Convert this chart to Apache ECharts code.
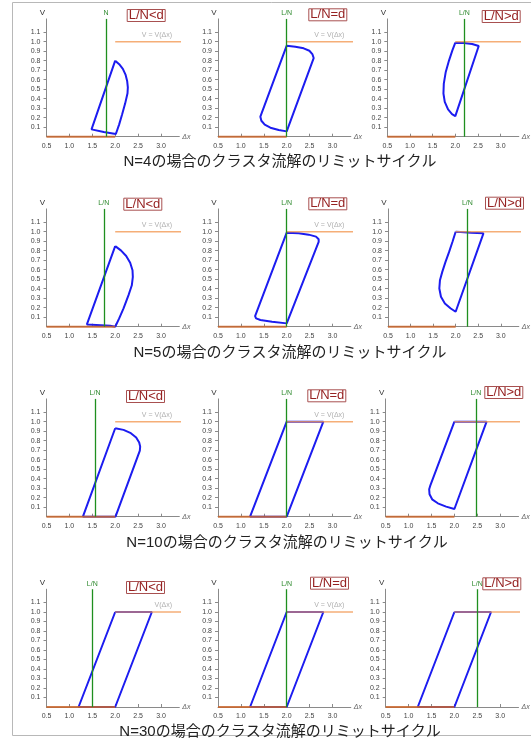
<!DOCTYPE html>
<html><head><meta charset="utf-8">
<script src="https://cdn.jsdelivr.net/npm/echarts@6/dist/echarts.min.js"></script>
<style>html,body{margin:0;padding:0;background:#fff}#c{width:531px;height:743px}</style>
</head><body><div id="c"></div>
<script>
// ---- data ----
const xTickValues = [0.5, 1.0, 1.5, 2.0, 2.5, 3.0];
const xTickLabels = [0.5, 1.0, 1.5, 2.0, 2.5, 3.0];
const yTickValues = [0.1, 0.2, 0.3, 0.4, 0.5, 0.6, 0.7, 0.8, 0.9, 1.0, 1.1];
const rowN = [4, 5, 10, 30];
const colTags = ['L/N<d', 'L/N=d', 'L/N>d'];
const lnValues = [[1.80, 2.0, 2.2], [1.75, 2.0, 2.26], [1.56, 2.0, 2.47], [1.5, 2.0, 2.5]];
const lnNames = [['N', 'L/N', 'L/N'], ['L/N', 'L/N', 'L/N'], ['L/N', 'L/N', 'L/N'], ['L/N', 'L/N', 'L/N']];
const ovTexts = [['V = V(Δx)', 'V = V(Δx)', 'V = V(Δx)'], ['V = V(Δx)', 'V = V(Δx)', 'V = V(Δx)'],
                 ['V = V(Δx)', 'V = V(Δx)', 'V = V(Δx)'], ['V(Δx)', 'V = V(Δx)', '= V(Δx)']];
const ovLabelX = [3.24, 3.26, 3.42];
const orangeTop = [[2.0, 1.0], [3.5, 1.0]];
const orangeBottom = [[0.5, 0], [2.0, 0]];

const cycleN4Low = [[2.0,0.80],[2.087,0.763],[2.167,0.714],[2.225,0.654],[2.261,0.587],[2.276,0.520],[2.269,0.457],[2.218,0.351],[2.152,0.236],[2.087,0.130],[2.014,0.028],[1.75,0.05],[1.483,0.077],[2.0,0.80]];
const cycleN4Eq = [[2.0,0.958],[2.189,0.947],[2.371,0.930],[2.495,0.905],[2.56,0.870],[2.589,0.828],[2.0,0.056],[1.825,0.070],[1.644,0.095],[1.520,0.126],[1.447,0.168],[1.425,0.211],[2.0,0.958]];
const cycleN4High = [[2.0,0.990],[2.189,0.986],[2.371,0.976],[2.516,0.955],[2.531,0.937],[2.0,0.217],[1.927,0.238],[1.840,0.287],[1.767,0.367],[1.738,0.455],[1.746,0.559],[1.789,0.682],[1.862,0.804],[1.935,0.909],[2.0,0.990]];
const cycleN5Low = [[2.0,0.848],[2.124,0.803],[2.240,0.744],[2.327,0.674],[2.378,0.594],[2.385,0.524],[2.363,0.436],[2.291,0.332],[2.182,0.192],[2.087,0.087],[2.0,0.0],[1.891,0.010],[1.382,0.024],[2.0,0.848]];
const cycleN5Eq = [[2.0,0.990],[2.262,0.983],[2.48,0.969],[2.64,0.948],[2.698,0.920],[2.698,0.892],[2.0,0.035],[1.680,0.052],[1.426,0.070],[1.331,0.087],[1.31,0.112],[2.0,0.990]];
const cycleN5High = [[2.0,1.0],[2.109,0.997],[2.341,0.990],[2.616,0.983],[2.0,0.157],[1.891,0.192],[1.761,0.245],[1.674,0.315],[1.638,0.402],[1.652,0.490],[1.703,0.577],[1.775,0.682],[1.855,0.787],[1.928,0.892],[2.0,1.0]];
const cycleN10Low = [[2.0,0.931],[2.182,0.914],[2.342,0.879],[2.458,0.833],[2.524,0.780],[2.545,0.738],[2.538,0.696],[2.007,0],[1.295,0],[2.0,0.931]];
const cycleN10Eq = [[2.0,1.0],[2.8,1.0],[2.0,0],[1.2,0],[2.0,1.0]];
const cycleN10High = [[2.0,1.0],[2.703,1.0],[2.0,0.081],[1.819,0.106],[1.638,0.141],[1.514,0.183],[1.457,0.236],[1.449,0.289],[1.471,0.324],[2.0,1.0]];
const cycleN30Low = [[2.0,1.0],[2.8,1.0],[2.0,0],[1.2,0],[2.0,1.0]];
const cycleN30Eq = [[2.0,1.0],[2.8,1.0],[2.0,0],[1.2,0],[2.0,1.0]];
const cycleN30High = [[2.0,1.0],[2.8,1.0],[2.0,0],[1.2,0],[2.0,1.0]];
const cycles = [[cycleN4Low, cycleN4Eq, cycleN4High], [cycleN5Low, cycleN5Eq, cycleN5High],
                [cycleN10Low, cycleN10Eq, cycleN10High], [cycleN30Low, cycleN30Eq, cycleN30High]];

// ---- layout ----
const gridLeft = [[46.5, 218, 387.3], [46.5, 218, 388], [46.5, 218, 385.7], [46.5, 218, 385.7]];
const rowAxisY = [136.7, 326.7, 516.7, 707];
const pxPerX = 45.8, pxPerV = 95, xMin = 0.5, xMax = 3.4, vMax = 1.24;
const boxPos = [[[126.7, 9], [308.3, 8.3], [481.7, 10]], [[123.3, 197.7], [308.3, 197.3], [485, 196.7]],
                [[126, 390], [307.3, 389.3], [484.3, 386]], [[126, 581], [310, 576.7], [482.3, 577.3]]];
const titleCenter = [[280, 161.7], [290, 353], [287, 542.7], [280, 732]];

const FONT = '"Liberation Sans", Arial, sans-serif';
const grid = [], xAxis = [], yAxis = [], series = [], title = [], graphic = [];
for (let r = 0; r < 4; r++) {
  for (let c = 0; c < 3; c++) {
    const i = r * 3 + c;
    const h = vMax * pxPerV;
    grid.push({ left: gridLeft[r][c], top: rowAxisY[r] - h, width: (xMax - xMin) * pxPerX, height: h });
    xAxis.push({
      type: 'value', gridIndex: i, min: xMin, max: xMax,
      axisLine: { lineStyle: { color: '#8a8a8a', width: 1 } },
      axisTick: { customValues: xTickValues, inside: true, length: 3, lineStyle: { color: '#8a8a8a' } },
      axisLabel: { customValues: xTickLabels, formatter: v => v.toFixed(1), fontSize: 7, color: '#444', margin: 6, fontFamily: FONT },
      splitLine: { show: false },
      name: 'Δx', nameLocation: 'end', nameGap: 3,
      nameTextStyle: { fontSize: 7, color: '#666', fontStyle: 'italic', fontFamily: FONT, padding: [7, 0, 0, 0] }
    });
    yAxis.push({
      type: 'value', gridIndex: i, min: 0, max: vMax,
      axisLine: { show: true, lineStyle: { color: '#8a8a8a', width: 1 } },
      axisTick: { show: true, customValues: yTickValues, length: 3, lineStyle: { color: '#8a8a8a' } },
      axisLabel: { customValues: yTickValues, formatter: v => v.toFixed(1), fontSize: 7, color: '#444', margin: 6, fontFamily: FONT },
      splitLine: { show: false },
      name: 'V', nameLocation: 'end', nameGap: 2,
      nameTextStyle: { fontSize: 8, color: '#333', fontFamily: FONT, padding: [0, 8, 0, 0] }
    });
    // cycle
    series.push({
      type: 'line', xAxisIndex: i, yAxisIndex: i, data: cycles[r][c], showSymbol: false, symbol: 'none',
      lineStyle: { color: '#1c1cf0', width: 2 }, z: 3, silent: true, animation: false
    });
    // V = V(dx) top line, with green L/N marker line
    series.push({
      type: 'line', xAxisIndex: i, yAxisIndex: i, data: orangeTop, showSymbol: false, symbol: 'none', clip: false,
      lineStyle: { color: '#f39a55', width: 1.5, opacity: 0.8 }, z: 4, silent: true, animation: false,
      markLine: {
        silent: true, symbol: ['none', 'none'], animation: false,
        data: [{ xAxis: lnValues[r][c] }],
        lineStyle: { color: '#1f8f1f', width: 1.3, type: 'solid', opacity: 1 },
        label: { show: true, position: 'end', formatter: lnNames[r][c], color: '#2f8a2f', fontSize: 7, distance: 2, fontFamily: FONT }
      }
    });
    series.push({
      type: 'line', xAxisIndex: i, yAxisIndex: i, data: orangeBottom, showSymbol: false, symbol: 'none', clip: false,
      lineStyle: { color: '#c8652c', width: 2, opacity: 0.85 }, z: 4, silent: true, animation: false
    });
    series.push({
      type: 'scatter', xAxisIndex: i, yAxisIndex: i, data: [[ovLabelX[c], 1.0]], symbolSize: 0, silent: true, animation: false,
      label: { show: true, position: 'top', align: 'right', distance: 3, formatter: ovTexts[r][c], fontSize: 7, color: '#9a9a9a', fontFamily: FONT }
    });
    title.push({
      text: colTags[c], left: boxPos[r][c][0], top: boxPos[r][c][1], padding: [0, 2, 0, 2],
      borderColor: '#a85050', borderWidth: 1, backgroundColor: '#fff',
      textStyle: { color: '#962222', fontSize: 13, fontWeight: 'normal', lineHeight: 13, fontFamily: FONT }
    });
  }
  graphic.push({
    type: 'text', x: titleCenter[r][0], y: titleCenter[r][1], silent: true,
    style: { text: 'N=' + rowN[r] + 'の場合のクラスタ流解のリミットサイクル', align: 'center', verticalAlign: 'middle',
             font: '15px "Liberation Sans", "Noto Sans CJK JP", sans-serif', fill: '#222' }
  });
}
graphic.push({ type: 'polyline', silent: true, shape: { points: [[531, 2.5], [12.5, 2.5], [12.5, 735.5], [531, 735.5]] },
               style: { stroke: '#b8b8b8', fill: null, lineWidth: 1 }, z: -1 });

const chart = echarts.init(document.getElementById('c'), null, { renderer: 'canvas' });
chart.setOption({ animation: false, backgroundColor: '#fff', grid, xAxis, yAxis, series, title, graphic });
</script></body></html>
